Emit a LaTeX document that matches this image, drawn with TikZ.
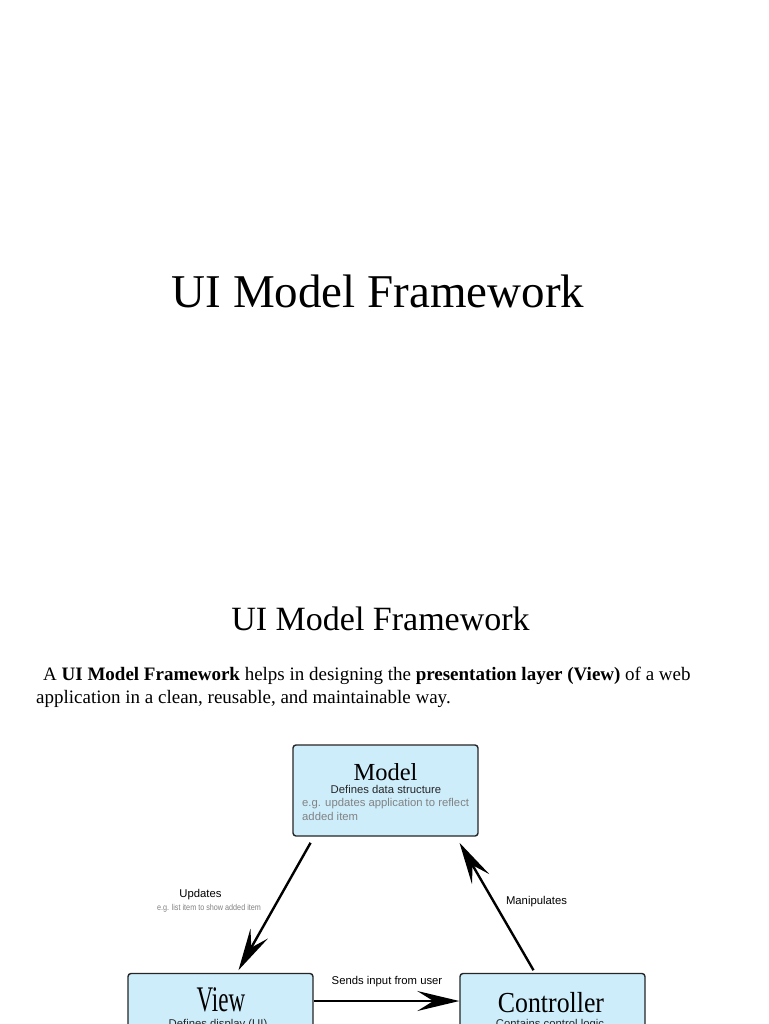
\documentclass[tikz,border=0pt]{standalone}
\usepackage{fontspec}
\setmainfont{Liberation Serif}
\newfontfamily\boxsans{Liberation Sans}
\usepackage{graphicx}
\usepackage{xcolor}
\usepackage{tikz}
\usetikzlibrary{arrows.meta,calc}
\definecolor{boxblue}{RGB}{205,237,251}
\definecolor{hintgray}{RGB}{130,130,130}
\newcommand{\fsize}[1]{\fontsize{#1}{#1}\selectfont}

\begin{document}
\begin{tikzpicture}[x=1pt,y=-1pt,
    mvcbox/.style={draw=black!85,line width=1.4pt,rounded corners=3pt,fill=boxblue,inner sep=0pt,minimum width=185pt,minimum height=91pt},
    txt/.style={inner sep=0pt,anchor=base},
    lbl/.style={inner sep=0pt,anchor=base,font=\boxsans\fsize{11.3}},
    hint/.style={lbl,text=hintgray},
    flow/.style={line width=2.4pt,-{Stealth[length=42pt,width=20pt,inset=16pt]}}]
        \clip (0,0) rectangle (768,1024);
        \fill[white] (0,0) rectangle (768,1024);

        % titles and intro
        \node[txt,font=\fsize{47}] (title) at (378,307) {UI Model Framework};
        \node[txt,font=\fsize{34}] (subtitle) at (380.5,630) {UI Model Framework};
        \node[txt,anchor=base west,font=\fsize{19}] (intro1) at (43,680.5)
          {A \textbf{UI Model Framework} helps in designing the \textbf{presentation layer (View)} of a web};
        \node[txt,anchor=base west,font=\fsize{19}] (intro2) at (36,703)
          {application in a clean, reusable, and maintainable way.};

        % boxes
        \node[mvcbox] (model) at (385.5,790.5) {};
        \node[mvcbox] (view) at (220.5,1019) {};
        \node[mvcbox] (ctrl) at (552.5,1019) {};

        \node[txt,font=\fsize{24.5}] (modelname) at (385.5,780) {Model};
        \node[lbl,text=black!85] (modeldef) at (386,793.5) {Defines data structure};
        \node[hint,anchor=base west] (modelex1) at (302,806) {e.g. updates application to reflect};
        \node[hint,anchor=base west] (modelex2) at (302,820.5) {added item};

        \node[txt,font=\fsize{36}] (viewname) at (221,1011) {\scalebox{0.64}[1]{View}};
        \node[lbl,text=black!85] (viewdef) at (218,1027) {Defines display (UI)};

        \node[txt,font=\fsize{29}] (ctrlname) at (551,1012) {\scalebox{0.89}[1]{Controller}};
        \node[lbl,text=black!85] (ctrldef) at (550,1027) {Contains control logic};

        % arrows
        \draw[flow,shorten <=7pt,shorten >=3pt] (314,0 |- model.south) -- (237,0 |- view.north);
        \draw[flow,shorten <=3pt,shorten >=7pt] (535,0 |- ctrl.north) -- (456,0 |- model.south);
        \draw[flow] (view.east |- 0,1001) -- (ctrl.west |- 0,1001);

        \node[lbl] (updlbl) at (200.5,897.5) {Updates};
        \node[hint,font=\boxsans\fsize{8.5}] (updex) at (209,910)
          {\scalebox{0.85}[1]{e.g. list item to show added item}};
        \node[lbl] (manlbl) at (536.5,904) {Manipulates};
        \node[lbl] (sendlbl) at (387,984.5) {Sends input from user};
      \end{tikzpicture}
\end{document}
